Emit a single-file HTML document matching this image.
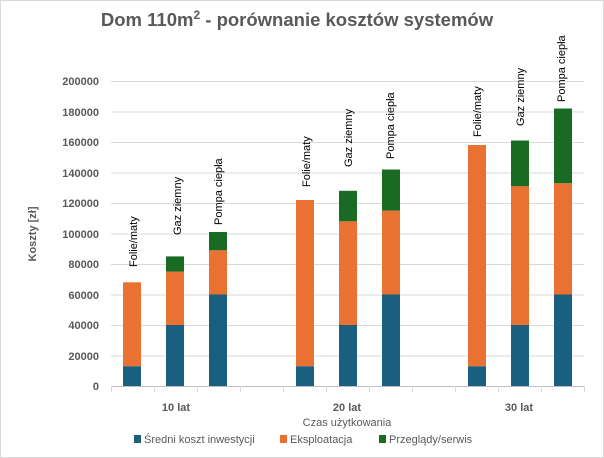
<!DOCTYPE html><html><head><style>body{margin:0;background:#fff}svg{display:block}</style></head><body>
<svg width="604" height="458" xmlns="http://www.w3.org/2000/svg" font-family="Liberation Sans, sans-serif">
<rect x="0.5" y="0.5" width="603" height="457" fill="#fff" stroke="#d9d9d9"/>
<text x="297" y="26" text-anchor="middle" font-size="18.5" font-weight="bold" fill="#595959">Dom 110m<tspan font-size="12" dy="-7">2</tspan><tspan dy="7"> - porównanie kosztów systemów</tspan></text>
<g stroke="#d9d9d9" stroke-width="1">
<line x1="111" x2="584" y1="81.5" y2="81.5"/><line x1="111" x2="584" y1="112" y2="112"/><line x1="111" x2="584" y1="142.5" y2="142.5"/><line x1="111" x2="584" y1="173" y2="173"/><line x1="111" x2="584" y1="203.5" y2="203.5"/><line x1="111" x2="584" y1="234" y2="234"/><line x1="111" x2="584" y1="264.5" y2="264.5"/><line x1="111" x2="584" y1="295" y2="295"/><line x1="111" x2="584" y1="325.5" y2="325.5"/><line x1="111" x2="584" y1="356" y2="356"/>
<line x1="111" x2="584" y1="386.5" y2="386.5" stroke="#bfbfbf"/>
<line x1="111.5" x2="111.5" y1="386" y2="392"/><line x1="154.5" x2="154.5" y1="386" y2="392"/><line x1="197.5" x2="197.5" y1="386" y2="392"/><line x1="240.5" x2="240.5" y1="386" y2="392"/><line x1="283.5" x2="283.5" y1="386" y2="392"/><line x1="326.5" x2="326.5" y1="386" y2="392"/><line x1="369.5" x2="369.5" y1="386" y2="392"/><line x1="412.5" x2="412.5" y1="386" y2="392"/><line x1="455.5" x2="455.5" y1="386" y2="392"/><line x1="498.5" x2="498.5" y1="386" y2="392"/><line x1="541.5" x2="541.5" y1="386" y2="392"/><line x1="584.5" x2="584.5" y1="386" y2="392"/>
</g>
<g font-size="11" font-weight="bold" fill="#595959" text-anchor="end">
<text x="99" y="85">200000</text><text x="99" y="116">180000</text><text x="99" y="146">160000</text><text x="99" y="177">140000</text><text x="99" y="207">120000</text><text x="99" y="238">100000</text><text x="99" y="268">80000</text><text x="99" y="299">60000</text><text x="99" y="329">40000</text><text x="99" y="360">20000</text><text x="99" y="390">0</text>
</g>
<text transform="translate(36,234) rotate(-90)" text-anchor="middle" font-size="11" font-weight="bold" fill="#595959">Koszty [zł]</text>
<g>
<rect x="123" y="366.2" width="18" height="19.8" fill="#1b5f80"/><rect x="123" y="282.3" width="18" height="83.9" fill="#e97132"/>
<rect x="166" y="325" width="18" height="61" fill="#1b5f80"/><rect x="166" y="271.6" width="18" height="53.4" fill="#e97132"/><rect x="166" y="256.4" width="18" height="15.2" fill="#196b24"/>
<rect x="209" y="294.5" width="18" height="91.5" fill="#1b5f80"/><rect x="209" y="250.3" width="18" height="44.2" fill="#e97132"/><rect x="209" y="232" width="18" height="18.3" fill="#196b24"/>
<rect x="296" y="366.2" width="18" height="19.8" fill="#1b5f80"/><rect x="296" y="200" width="18" height="166.2" fill="#e97132"/>
<rect x="339" y="325" width="18" height="61" fill="#1b5f80"/><rect x="339" y="221.3" width="18" height="103.7" fill="#e97132"/><rect x="339" y="190.8" width="18" height="30.5" fill="#196b24"/>
<rect x="382" y="294.5" width="18" height="91.5" fill="#1b5f80"/><rect x="382" y="210.6" width="18" height="83.9" fill="#e97132"/><rect x="382" y="169.5" width="18" height="41.1" fill="#196b24"/>
<rect x="468" y="366.2" width="18" height="19.8" fill="#1b5f80"/><rect x="468" y="145" width="18" height="221.2" fill="#e97132"/>
<rect x="511" y="325" width="18" height="61" fill="#1b5f80"/><rect x="511" y="186.2" width="18" height="138.8" fill="#e97132"/><rect x="511" y="140.5" width="18" height="45.7" fill="#196b24"/>
<rect x="554" y="294.5" width="18" height="91.5" fill="#1b5f80"/><rect x="554" y="183.2" width="18" height="111.3" fill="#e97132"/><rect x="554" y="108.5" width="18" height="74.7" fill="#196b24"/>
</g>
<g font-size="11" fill="#000">
<text transform="translate(137,267) rotate(-90)">Folie/maty</text>
<text transform="translate(181,235) rotate(-90)">Gaz ziemny</text>
<text transform="translate(222,225) rotate(-90)">Pompa ciepła</text>
<text transform="translate(310,187) rotate(-90)">Folie/maty</text>
<text transform="translate(352,167) rotate(-90)">Gaz ziemny</text>
<text transform="translate(394,159) rotate(-90)">Pompa ciepła</text>
<text transform="translate(481,137) rotate(-90)">Folie/maty</text>
<text transform="translate(524,126) rotate(-90)">Gaz ziemny</text>
<text transform="translate(565,102) rotate(-90)">Pompa ciepła</text>
</g>
<g font-size="11" font-weight="bold" fill="#595959" text-anchor="middle">
<text x="176" y="411">10 lat</text><text x="347" y="411">20 lat</text><text x="519" y="411">30 lat</text>
</g>
<text x="347" y="426" text-anchor="middle" font-size="11" fill="#595959">Czas użytkowania</text>
<g font-size="11" fill="#595959">
<rect x="134" y="435" width="7" height="8" fill="#1b5f80"/><text x="144" y="443">Średni koszt inwestycji</text>
<rect x="280" y="435" width="7" height="8" fill="#e97132"/><text x="290" y="443">Eksploatacja</text>
<rect x="379" y="435" width="7" height="8" fill="#196b24"/><text x="389" y="443">Przeglądy/serwis</text>
</g>
</svg></body></html>
